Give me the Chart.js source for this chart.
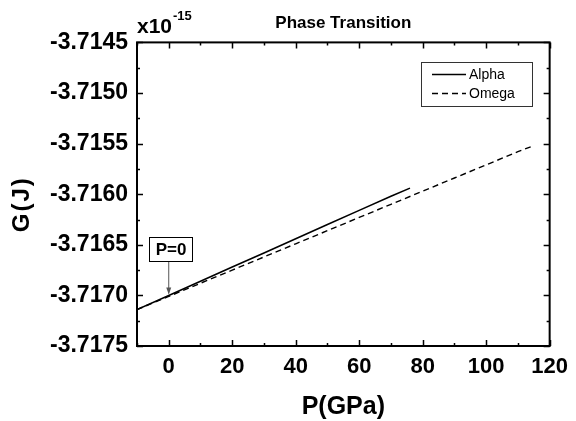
<!DOCTYPE html>
<html>
<head>
<meta charset="utf-8">
<script src="https://cdn.jsdelivr.net/npm/chart.js@4/dist/chart.umd.min.js"></script>
<style>
html,body{margin:0;padding:0;background:#fff;}
#wrap{width:576px;height:421px;position:relative;}
</style>
</head>
<body>
<div id="wrap"><canvas id="c" width="576" height="421"></canvas></div>
<script>
// ---- data (G in units of 1e-15 J) ----
const pressureAlpha = [-10, 0, 10, 20, 30, 40, 50, 60, 70, 76];
const gAlpha = [-3.71714, -3.71700, -3.71686, -3.71672, -3.71658, -3.71644, -3.71630, -3.71616, -3.71602, -3.71594];
const pressureOmega = [-10, 0, 10, 20, 30, 40, 50, 60, 70, 80, 90, 100, 110, 115];
const gOmega = [-3.71714, -3.71701, -3.71688, -3.71675, -3.71662, -3.71649, -3.71636, -3.71623, -3.71610, -3.71597, -3.71584, -3.71571, -3.71558, -3.71552];
const seriesNames = ["Alpha", "Omega"];
const xTickValues = [0, 20, 40, 60, 80, 100, 120];
const xMinorValues = [-10, 10, 30, 50, 70, 90, 110];
const yTickValues = [-3.7175, -3.7170, -3.7165, -3.7160, -3.7155, -3.7150, -3.7145];
const yMinorValues = [-3.71725, -3.71675, -3.71625, -3.71575, -3.71525, -3.71475];
const titleText = "Phase Transition";
const xTitle = "P(GPa)";
const yTitle = "G(J)";
const annotationP = 0;
const annotationG = -3.71700;
const annotationLabel = "P=0";

const FONT = "'Liberation Sans', Arial, Helvetica, sans-serif";

const extras = {
  id: 'extras',
  afterDatasetsDraw(chart) {
    const ctx = chart.ctx;
    const a = chart.chartArea;
    const xs = chart.scales.x, ys = chart.scales.y;
    ctx.save();
    // frame
    ctx.strokeStyle = '#000';
    ctx.lineWidth = 2;
    ctx.strokeRect(a.left, a.top, a.right - a.left, a.bottom - a.top);
    // inward ticks on all sides
    ctx.lineWidth = 1.5;
    ctx.beginPath();
    const drawX = (v, len) => {
      const px = Math.round(xs.getPixelForValue(v)) + 0.5;
      ctx.moveTo(px, a.bottom); ctx.lineTo(px, a.bottom - len);
      ctx.moveTo(px, a.top); ctx.lineTo(px, a.top + len);
    };
    const drawY = (v, len) => {
      const py = Math.round(ys.getPixelForValue(v)) + 0.5;
      ctx.moveTo(a.left, py); ctx.lineTo(a.left + len, py);
      ctx.moveTo(a.right, py); ctx.lineTo(a.right - len, py);
    };
    xTickValues.forEach(v => drawX(v, 6));
    xMinorValues.forEach(v => drawX(v, 3));
    yTickValues.forEach(v => drawY(v, 6));
    yMinorValues.forEach(v => drawY(v, 3));
    ctx.stroke();

    // legend
    const lx = 421, ly = 62, lw = 111, lh = 44;
    ctx.lineWidth = 1;
    ctx.strokeStyle = '#333';
    ctx.fillStyle = '#fff';
    ctx.fillRect(lx, ly, lw, lh);
    ctx.strokeRect(lx + 0.5, ly + 0.5, lw, lh);
    ctx.font = '14px ' + FONT;
    ctx.textBaseline = 'middle';
    ctx.textAlign = 'left';
    chart.data.datasets.forEach((ds, i) => {
      const yy = ly + 12.5 + i * 19;
      ctx.strokeStyle = '#000';
      ctx.lineWidth = 1.3;
      ctx.setLineDash(ds.borderDash || []);
      ctx.beginPath();
      ctx.moveTo(lx + 11, yy); ctx.lineTo(lx + 45, yy);
      ctx.stroke();
      ctx.setLineDash([]);
      ctx.fillStyle = '#000';
      ctx.fillText(ds.label, lx + 48, yy + 0.5);
    });

    // P=0 annotation
    const ax = xs.getPixelForValue(annotationP);
    const ay = ys.getPixelForValue(annotationG);
    const bx = 149, by = 237, bw = 43, bh = 24;
    ctx.strokeStyle = '#000';
    ctx.lineWidth = 1;
    ctx.fillStyle = '#fff';
    ctx.fillRect(bx, by, bw, bh);
    ctx.strokeRect(bx + 0.5, by + 0.5, bw, bh);
    ctx.fillStyle = '#000';
    ctx.font = 'bold 17px ' + FONT;
    ctx.textAlign = 'center';
    ctx.textBaseline = 'middle';
    ctx.fillText(annotationLabel, bx + bw / 2 + 0.5, by + bh / 2 + 1);
    ctx.strokeStyle = '#555';
    ctx.fillStyle = '#555';
    ctx.beginPath();
    ctx.moveTo(ax, by + bh + 1);
    ctx.lineTo(ax, ay - 2);
    ctx.stroke();
    ctx.beginPath();
    ctx.moveTo(ax, ay - 1);
    ctx.lineTo(ax - 2.5, ay - 8);
    ctx.lineTo(ax + 2.5, ay - 8);
    ctx.closePath();
    ctx.fill();

    // y axis title
    ctx.save();
    ctx.translate(22, (a.top + a.bottom) / 2 + 10);
    ctx.rotate(-Math.PI / 2);
    ctx.fillStyle = '#000';
    ctx.font = 'bold 24px ' + FONT;
    ctx.textAlign = 'center';
    ctx.textBaseline = 'middle';
    try { ctx.letterSpacing = '2px'; } catch (e) {}
    ctx.fillText(yTitle, 0, 0);
    ctx.restore();

    // exponent label
    ctx.fillStyle = '#000';
    ctx.textAlign = 'left';
    ctx.textBaseline = 'alphabetic';
    ctx.font = 'bold 21px ' + FONT;
    ctx.fillText('x10', a.left, a.top - 9);
    const w = ctx.measureText('x10').width;
    ctx.font = 'bold 13px ' + FONT;
    ctx.fillText('-15', a.left + w + 1, a.top - 22);
    ctx.restore();
  }
};

const chart = new Chart(document.getElementById('c'), {
  type: 'line',
  data: {
    datasets: [
      {
        label: seriesNames[0],
        data: pressureAlpha.map((p, i) => ({x: p, y: gAlpha[i]})),
        borderColor: '#000',
        borderWidth: 1.6,
        pointRadius: 0,
        fill: false,
        tension: 0
      },
      {
        label: seriesNames[1],
        data: pressureOmega.map((p, i) => ({x: p, y: gOmega[i]})),
        borderColor: '#000',
        borderWidth: 1.4,
        borderDash: [6, 4],
        pointRadius: 0,
        fill: false,
        tension: 0
      }
    ]
  },
  options: {
    responsive: false,
    animation: false,
    devicePixelRatio: 1,
    layout: { padding: { left: 0, right: 23, top: 0, bottom: 0 } },
    plugins: {
      legend: { display: false },
      tooltip: { enabled: false },
      title: {
        display: true,
        text: titleText,
        fullSize: false,
        color: '#000',
        font: { family: FONT, size: 17, weight: 'bold', lineHeight: 1.2 },
        padding: { top: 13, bottom: 9 }
      }
    },
    scales: {
      x: {
        type: 'linear',
        min: -10,
        max: 120,
        afterBuildTicks: s => { s.ticks = xTickValues.map(v => ({value: v})); },
        afterFit: s => { s.height = 75; },
        grid: { display: false, drawTicks: false },
        border: { display: false },
        ticks: {
          color: '#000',
          padding: 8,
          maxRotation: 0,
          font: { family: FONT, size: 22, weight: 'bold' },
          callback: v => String(v)
        },
        title: {
          display: true,
          text: xTitle,
          color: '#000',
          font: { family: FONT, size: 25, weight: 'bold', lineHeight: 1 },
          padding: { top: 0, bottom: 1 }
        }
      },
      y: {
        type: 'linear',
        min: -3.7175,
        max: -3.7145,
        afterBuildTicks: s => { s.ticks = yTickValues.map(v => ({value: v})); },
        afterFit: s => { s.width = 137; },
        grid: { display: false, drawTicks: false },
        border: { display: false },
        ticks: {
          color: '#000',
          padding: 9,
          font: { family: FONT, size: 23, weight: 'bold' },
          callback: v => Number(v).toFixed(4)
        },
        title: { display: false, text: yTitle }
      }
    }
  },
  plugins: [extras]
});
</script>
</body>
</html>
